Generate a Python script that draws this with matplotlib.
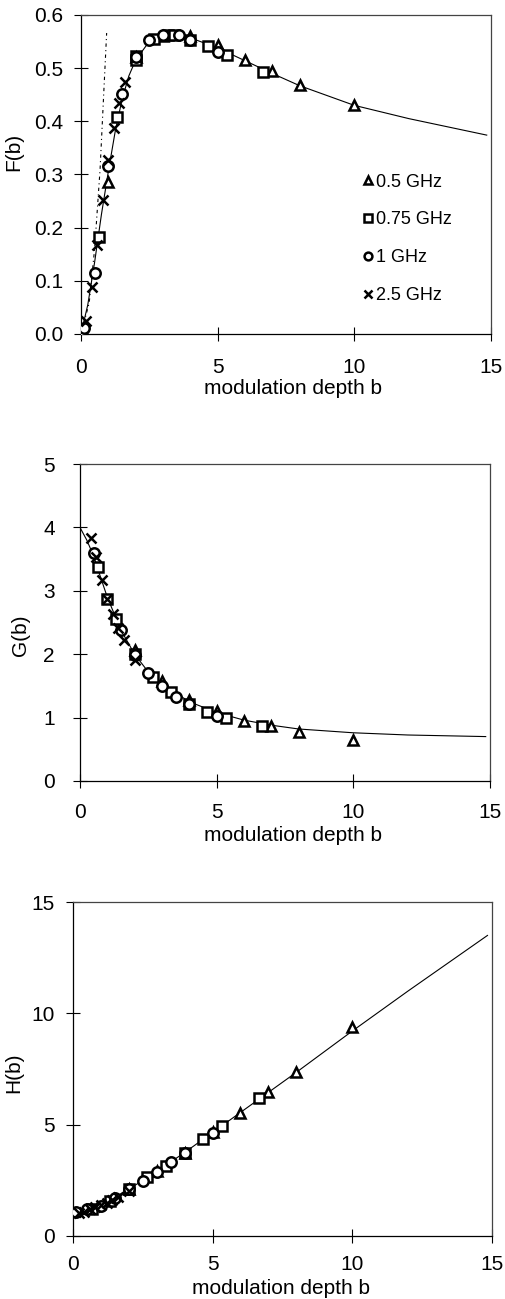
import matplotlib
matplotlib.use("Agg")
import matplotlib.pyplot as plt

plt.rcParams['font.family'] = ['Liberation Sans', 'DejaVu Sans']

# ---- data ----
# 0.5 GHz (triangles), 0.75 GHz (squares), 1 GHz (circles), 2.5 GHz (crosses)
f_tri_b = [1.0, 2.0, 3.0, 4.0, 5.0, 6.0, 7.0, 8.0, 10.0]
f_tri_v = [0.286, 0.52, 0.56, 0.56, 0.543, 0.515, 0.494, 0.468, 0.430]
f_sq_b = [0.667, 1.333, 2.0, 2.0, 2.667, 3.2, 3.4, 4.0, 4.667, 5.333, 6.667]
f_sq_v = [0.182, 0.408, 0.515, 0.522, 0.554, 0.562, 0.562, 0.553, 0.541, 0.524, 0.493]
f_ci_b = [0.05, 0.12, 0.5, 1.0, 1.5, 2.0, 2.5, 3.0, 3.6, 4.0, 5.0]
f_ci_v = [0.005, 0.012, 0.115, 0.316, 0.452, 0.52, 0.553, 0.562, 0.562, 0.553, 0.530]
f_x_b = [0.2, 0.4, 0.6, 0.8, 1.0, 1.2, 1.4, 1.6]
f_x_v = [0.024, 0.088, 0.168, 0.252, 0.328, 0.387, 0.434, 0.474]
f_fit_b = [0.0, 0.25, 0.5, 0.75, 1.0, 1.25, 1.5, 1.75, 2.0, 2.5, 3.0, 3.5, 4.0,
           5.0, 6.0, 7.0, 8.0, 10.0, 12.0, 14.85]
f_fit_v = [0.0, 0.055, 0.135, 0.225, 0.305, 0.38, 0.44, 0.485, 0.515, 0.55, 0.56,
           0.562, 0.557, 0.538, 0.514, 0.49, 0.467, 0.43, 0.405, 0.374]
f_small_b = [0.0, 0.3, 0.5, 0.7, 0.94]
f_small_v = [0.0, 0.058, 0.16, 0.31, 0.566]

g_tri_b = [2.0, 3.0, 4.0, 5.0, 6.0, 7.0, 8.0, 10.0]
g_tri_v = [2.06, 1.58, 1.28, 1.11, 0.95, 0.86, 0.77, 0.65]
g_sq_b = [0.667, 1.0, 1.333, 2.0, 2.667, 3.333, 4.0, 4.667, 5.333, 6.667]
g_sq_v = [3.37, 2.87, 2.55, 2.0, 1.64, 1.41, 1.22, 1.09, 1.00, 0.87]
g_ci_b = [0.5, 1.5, 2.0, 2.5, 3.0, 3.5, 4.0, 5.0]
g_ci_v = [3.6, 2.38, 1.98, 1.70, 1.50, 1.33, 1.22, 1.03]
g_x_b = [0.4, 0.6, 0.8, 1.0, 1.2, 1.4, 1.6, 2.0]
g_x_v = [3.84, 3.53, 3.17, 2.87, 2.64, 2.41, 2.22, 1.91]
g_fit_b = [0.0, 0.25, 0.5, 0.75, 1.0, 1.5, 2.0, 2.5, 3.0, 4.0, 5.0, 6.0, 7.0, 8.0,
           10.0, 12.0, 14.85]
g_fit_v = [4.0, 3.8, 3.55, 3.22, 2.9, 2.38, 2.0, 1.72, 1.53, 1.25, 1.08, 0.96,
           0.88, 0.82, 0.76, 0.725, 0.70]

h_tri_b = [2.0, 3.0, 4.0, 5.0, 6.0, 7.0, 8.0, 10.0]
h_tri_v = [2.1, 2.9, 3.75, 4.65, 5.51, 6.48, 7.38, 9.4]
h_sq_b = [0.667, 1.333, 2.0, 2.667, 3.333, 4.0, 4.667, 5.333, 6.667]
h_sq_v = [1.2, 1.55, 2.10, 2.64, 3.14, 3.74, 4.34, 4.94, 6.18]
h_ci_b = [0.1, 0.5, 1.0, 1.5, 2.0, 2.5, 3.0, 3.5, 4.0, 5.0]
h_ci_v = [1.1, 1.2, 1.35, 1.7, 2.1, 2.48, 2.89, 3.34, 3.74, 4.64]
h_x_b = [0.2, 0.4, 0.6, 0.8, 1.0, 1.2, 1.4, 1.6, 2.0]
h_x_v = [1.05, 1.1, 1.2, 1.3, 1.4, 1.5, 1.6, 1.75, 2.0]
h_fit_b = [0.0, 1.0, 2.0, 3.0, 4.0, 5.0, 6.0, 7.0, 8.0, 10.0, 12.0, 14.85]
h_fit_v = [1.05, 1.4, 2.1, 2.9, 3.75, 4.65, 5.55, 6.45, 7.35, 9.2, 11.0, 13.5]

labels = ['0.5 GHz', '0.75 GHz', '1 GHz', '2.5 GHz']
xticks = [0, 5, 10, 15]

mk = dict(linestyle='none', color='black', markersize=7.5, markeredgewidth=1.8,
          markerfacecolor='white')


def draw_panel(ax, series, fit_b, fit_v, ylim, yticks, ylabel, ypad, xpad=12, yfmt=None):
    ax.plot(fit_b, fit_v, color='black', linewidth=0.8, zorder=1)
    handles = []
    for (b, v), m in zip(series, ['^', 's', 'o', 'x']):
        h, = ax.plot(b, v, marker=m, zorder=3, **mk)
        handles.append(h)
    ax.set_xlim(0, 15)
    ax.set_ylim(*ylim)
    ax.set_xticks(xticks)
    ax.set_yticks(yticks)
    if yfmt:
        ax.set_yticklabels([yfmt.format(t) for t in yticks])
    ax.tick_params(direction='inout', length=10, width=0.8, labelsize=15)
    ax.tick_params(axis='x', pad=xpad)
    ax.tick_params(axis='y', pad=ypad)
    for s in ['left', 'bottom']:
        ax.spines[s].set_linewidth(0.9)
    for s in ['top', 'right']:
        ax.spines[s].set_linewidth(0.9)
        ax.spines[s].set_color('#444444')
    ax.set_xlabel('modulation depth b', fontsize=15)
    ax.set_ylabel(ylabel, fontsize=15)
    return handles


fig = plt.figure(figsize=(5.06, 12.99), dpi=100)

ax1 = fig.add_axes([0.160, 0.7429, 0.810, 0.2456])
hs = draw_panel(ax1, [(f_tri_b, f_tri_v), (f_sq_b, f_sq_v), (f_ci_b, f_ci_v), (f_x_b, f_x_v)],
                f_fit_b, f_fit_v, (0, 0.6), [0, 0.1, 0.2, 0.3, 0.4, 0.5, 0.6], 'F(b)', 8,
                yfmt='{:.1f}')
ax1.plot(f_small_b, f_small_v, color='black', linewidth=0.8, linestyle=(0, (3, 3, 1, 3)),
         zorder=1)
ax1.xaxis.set_label_coords(0.517, -0.14)
ax1.yaxis.set_label_coords(-0.1415, 0.57)
ax1.legend(hs, labels, loc='upper left', bbox_to_anchor=(0.67, 0.525), frameon=False,
           fontsize=13, markerscale=0.75, handlelength=0.6, handletextpad=0.15,
           labelspacing=1.15, borderaxespad=0)

ax2 = fig.add_axes([0.158, 0.3988, 0.810, 0.2440])
draw_panel(ax2, [(g_tri_b, g_tri_v), (g_sq_b, g_sq_v), (g_ci_b, g_ci_v), (g_x_b, g_x_v)],
           g_fit_b, g_fit_v, (0, 5), [0, 1, 2, 3, 4, 5], 'G(b)', 13, xpad=11)
ax2.xaxis.set_label_coords(0.52, -0.142)
ax2.yaxis.set_label_coords(-0.122, 0.46)

ax3 = fig.add_axes([0.1443, 0.0485, 0.8274, 0.2571])
draw_panel(ax3, [(h_tri_b, h_tri_v), (h_sq_b, h_sq_v), (h_ci_b, h_ci_v), (h_x_b, h_x_v)],
           h_fit_b, h_fit_v, (0, 15), [0, 5, 10, 15], 'H(b)', 8, xpad=9)
ax3.xaxis.set_label_coords(0.497, -0.128)
ax3.yaxis.set_label_coords(-0.119, 0.488)

fig.savefig('out.png', dpi=100)
plt.close(fig)
